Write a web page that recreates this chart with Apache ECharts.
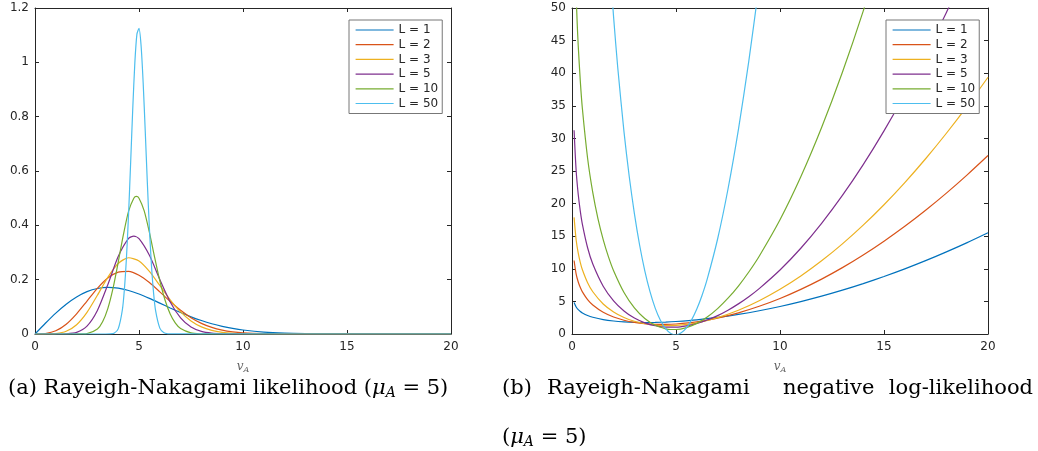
<!DOCTYPE html>
<html><head><meta charset="utf-8">
<script src="https://cdn.jsdelivr.net/npm/echarts@6/dist/echarts.min.js"></script>
<style>html,body{margin:0;padding:0;background:#fff}#c{width:1038px;height:451px}</style>
</head><body><div id="c"></div><script>
// ---- series names & colours ----
const seriesNames = ['L = 1', 'L = 2', 'L = 3', 'L = 5', 'L = 10', 'L = 50'];
const lineColors = ['#0072BD', '#D95319', '#EDB120', '#7E2F8E', '#77AC30', '#4DBEEE'];

// ---- axis ranges / ticks ----
const xMin = 0, xMax = 20, xStep = 5;
const pdfYMax = 1.2, pdfYStep = 0.2;
const nllYMax = 50, nllYStep = 5;

// ---- (a) likelihood ----
const xPdfL1 = [0,0.5,1,1.5,2,2.5,3,3.5,4,4.5,5,5.5,6,6.5,7,7.5,8,8.5,9,9.5,10,11,12,13,14,15,20];
const pdfL1  = [0,0.0396,0.0769,0.1097,0.1363,0.1558,0.1674,0.1715,0.1687,0.1602,0.1472,0.1312,0.1137,0.0959,0.0789,0.0632,0.0495,0.0378,0.0282,0.0206,0.0147,0.0070,0.0030,0.0012,0.0004,0.0001,0];
const xPdfL2 = [0,0.5,1,1.5,2,2.5,3,3.5,4,4.5,5,5.5,6,6.5,7,7.5,8,8.5,9,9.5,10,11,12,13,20];
const pdfL2  = [0,0.0016,0.0118,0.0361,0.0744,0.1213,0.1682,0.2060,0.2277,0.2308,0.2165,0.1894,0.1552,0.1196,0.0871,0.0600,0.0392,0.0243,0.0143,0.0080,0.0043,0.0011,0.0002,0,0];
const xPdfL3 = [0,0.5,1,1.5,2,2.5,3,3.5,4,4.5,5,5.5,6,6.5,7,7.5,8,8.5,9,9.5,10,11,12,20];
const pdfL3  = [0,0.0001,0.0015,0.0100,0.0342,0.0797,0.1426,0.2086,0.2594,0.2807,0.2689,0.2306,0.1787,0.1260,0.0812,0.0480,0.0262,0.0132,0.0061,0.0026,0.0011,0.0001,0,0];
const xPdfL5 = [0,0.5,1,1.5,2,2.5,3,3.5,4,4.5,4.75,5,5.5,6,6.5,7,7.5,8,8.5,9,9.5,10,11,20];
const pdfL5  = [0,0,0,0.0007,0.0061,0.0292,0.0868,0.1814,0.2851,0.3517,0.3601,0.3510,0.2897,0.2007,0.1181,0.0597,0.0260,0.0099,0.0033,0.0010,0.0002,0.0001,0,0];
const xPdfL10 = [0,1.5,2,2.5,3,3.25,3.5,3.75,4,4.25,4.5,4.75,4.875,5,5.25,5.5,5.75,6,6.25,6.5,6.75,7,7.5,8,8.5,9,20];
const pdfL10  = [0,0,0.0001,0.0017,0.0184,0.0449,0.0936,0.1681,0.2640,0.3657,0.4520,0.5000,0.5066,0.5000,0.4534,0.3742,0.2831,0.1963,0.1252,0.0737,0.0401,0.0202,0.0041,0.0006,0.0001,0,0];
const xPdfL50 = [0,3.4,3.6,3.8,4,4.2,4.3,4.4,4.5,4.6,4.7,4.8,4.9,5,5.1,5.2,5.3,5.4,5.5,5.6,5.7,5.8,6,6.2,6.4,6.6,20];
const pdfL50  = [0,0,0.0002,0.0027,0.0188,0.0887,0.1666,0.2850,0.444,0.634,0.830,0.998,1.104,1.125,1.062,0.925,0.747,0.559,0.389,0.251,0.1512,0.0848,0.0217,0.0042,0.0006,0.0001,0];

// ---- (b) negative log-likelihood ----
const xNllA = [0.1,0.2,0.3,0.4,0.5,0.75,1,1.5,2,2.5,3,3.5,4,4.5,5,6,7,8,9,10,11,12,13,14,15,16,17,18,19,20];
const nllL1 = [4.83,4.14,3.73,3.45,3.23,2.84,2.57,2.21,1.99,1.86,1.79,1.76,1.78,1.83,1.92,2.17,2.54,3.01,3.57,4.22,4.97,5.80,6.72,7.73,8.82,9.99,11.25,12.60,14.02,15.53];
const nllL2 = [11.27,9.19,7.98,7.12,6.46,5.27,4.44,3.32,2.60,2.11,1.78,1.58,1.48,1.47,1.53,1.86,2.44,3.24,4.25,5.45,6.85,8.42,10.18,12.12,14.24,16.52,18.98,21.61,24.41,27.37];
const nllL3 = [17.88,14.41,12.39,10.96,9.86,7.87,6.48,4.60,3.38,2.53,1.95,1.57,1.35,1.27,1.31,1.72,2.51,3.64,5.10,6.85,8.89,11.22,13.82,16.69,19.82,23.22,26.88,30.79,34.96,39.38];
const xNllL5 = [0.1,0.2,0.3,0.4,0.5,0.75,1,1.5,2,2.5,3,3.5,4,4.5,5,5.5,6,6.5,7,7.5,8,8.5,9,10,11,12,13,14,15,16,17,18,19];
const nllL5  = [31.26,25.03,21.39,18.81,16.82,13.23,10.73,7.33,5.09,3.54,2.44,1.71,1.26,1.05,1.05,1.24,1.61,2.14,2.82,3.65,4.62,5.72,6.96,9.81,13.15,16.97,21.25,25.98,31.16,36.78,42.83,49.32,56.23];
const xNllL10 = [0.2,0.25,0.3,0.4,0.5,0.75,1,1.25,1.5,1.75,2,2.5,3,3.5,4,4.5,4.75,5,5.5,6,6.5,7,7.5,8,8.5,9,10,11,12,13,14,15];
const nllL10  = [51.87,47.64,44.18,38.75,34.54,26.96,21.67,17.66,14.47,11.86,9.70,6.36,4.00,2.37,1.33,0.79,0.69,0.69,0.98,1.63,2.61,3.90,5.49,7.36,9.51,11.93,17.52,24.11,31.66,40.14,49.53,59.82];
const xNllL50 = [1.8,2,2.2,2.5,2.75,3,3.25,3.5,3.75,4,4.25,4.5,4.75,5,5.25,5.5,5.75,6,6.25,6.5,7,7.5,8,8.5,9];
const nllL50  = [57.50,48.60,40.84,31.00,24.19,18.45,13.65,9.69,6.49,3.97,2.10,0.81,0.08,-0.12,0.18,0.95,2.17,3.83,5.91,8.41,14.57,22.24,31.35,41.85,53.69];

const pdfX = [xPdfL1, xPdfL2, xPdfL3, xPdfL5, xPdfL10, xPdfL50];
const pdfY = [pdfL1, pdfL2, pdfL3, pdfL5, pdfL10, pdfL50];
const nllX = [xNllA, xNllA, xNllA, xNllL5, xNllL10, xNllL50];
const nllY = [nllL1, nllL2, nllL3, nllL5, nllL10, nllL50];

const zip = (xs, ys) => xs.map((x, i) => [x, ys[i]]);

const axisColor = '#262626';
const tickFont = { fontFamily: 'DejaVu Sans', fontSize: 12, color: axisColor };

function xAx(gridIndex, pos, showLabel) {
  return {
    type: 'value', gridIndex, position: pos, min: xMin, max: xMax, interval: xStep,
    axisLine: { show: true, onZero: false, lineStyle: { color: axisColor, width: 1 } },
    axisTick: { show: true, inside: true, length: 4, lineStyle: { color: axisColor } },
    axisLabel: Object.assign({ show: showLabel, margin: 7 }, tickFont),
    splitLine: { show: false },
    name: showLabel ? '{v|v}{s|A}' : '',
    nameLocation: 'middle', nameGap: 25,
    nameTextStyle: {
      rich: {
        v: { fontFamily: 'DejaVu Serif', fontStyle: 'italic', fontSize: 12, color: '#666' },
        s: { fontFamily: 'DejaVu Serif', fontStyle: 'italic', fontSize: 8, color: '#666', padding: [7, 0, 0, 0] }
      }
    }
  };
}
function yAx(gridIndex, pos, showLabel, max, step) {
  return {
    type: 'value', gridIndex, position: pos, min: 0, max, interval: step,
    axisLine: { show: true, onZero: false, lineStyle: { color: axisColor, width: 1 } },
    axisTick: { show: true, inside: true, length: 4, lineStyle: { color: axisColor } },
    axisLabel: Object.assign({ show: showLabel, margin: 6 }, tickFont),
    splitLine: { show: false }
  };
}

const series = [];
seriesNames.forEach((n, i) => {
  series.push({
    name: n, type: 'line', xAxisIndex: 0, yAxisIndex: 0, data: zip(pdfX[i], pdfY[i]),
    symbol: 'none', smooth: 0.25, clip: true,
    lineStyle: { color: lineColors[i], width: 1.2 }, itemStyle: { color: lineColors[i] }
  });
});
seriesNames.forEach((n, i) => {
  series.push({
    name: n, type: 'line', xAxisIndex: 2, yAxisIndex: 2, data: zip(nllX[i], nllY[i]),
    symbol: 'none', smooth: 0.25, clip: true,
    lineStyle: { color: lineColors[i], width: 1.2 }, itemStyle: { color: lineColors[i] }
  });
});

function legend(left) {
  return {
    data: seriesNames, orient: 'vertical', left, top: 20,
    backgroundColor: '#fff', borderColor: '#777', borderWidth: 1,
    padding: [4, 4, 4, 6], itemWidth: 38, itemHeight: 12, itemGap: 2.7,
    itemStyle: { opacity: 0 },
    lineStyle: { width: 1.2 },
    textStyle: { fontFamily: 'DejaVu Sans', fontSize: 12, color: axisColor, lineHeight: 12 },
    selectedMode: false
  };
}

const serif = 'DejaVu Serif';
const capSize = 21;
const capRich = {
  r: { fontFamily: serif, fontSize: capSize, color: '#111' },
  m: { fontFamily: serif, fontStyle: 'italic', fontSize: capSize, color: '#111' },
  s: { fontFamily: serif, fontStyle: 'italic', fontSize: 14, color: '#111', padding: [9, 0, 0, 0] }
};
function cap(x, y, text, align) {
  return { type: 'text', x, y, style: { text, rich: capRich, align: align || 'left', verticalAlign: 'middle' } };
}

const chart = echarts.init(document.getElementById('c'), null, { renderer: 'canvas' });
chart.setOption({
  animation: false,
  backgroundColor: '#fff',
  grid: [
    { left: 35, top: 8, width: 416, height: 326 },
    { left: 572, top: 8, width: 416, height: 326 }
  ],
  xAxis: [xAx(0, 'bottom', true), xAx(0, 'top', false), xAx(1, 'bottom', true), xAx(1, 'top', false)],
  yAxis: [yAx(0, 'left', true, pdfYMax, pdfYStep), yAx(0, 'right', false, pdfYMax, pdfYStep),
          yAx(1, 'left', true, nllYMax, nllYStep), yAx(1, 'right', false, nllYMax, nllYStep)],
  legend: [legend(349), legend(886)],
  series,
  graphic: [
    cap(8, 389, '{r|(a) Rayeigh-Nakagami likelihood (}{m|μ}{s|A}{r| = 5)}'),
    cap(502, 389, '{r|(b)}'),
    cap(547, 389, '{r|Rayeigh-Nakagami}'),
    cap(783, 389, '{r|negative}'),
    cap(1033, 389, '{r|log-likelihood}', 'right'),
    cap(502, 438, '{r|(}{m|μ}{s|A}{r| = 5)}')
  ]
});
</script></body></html>
